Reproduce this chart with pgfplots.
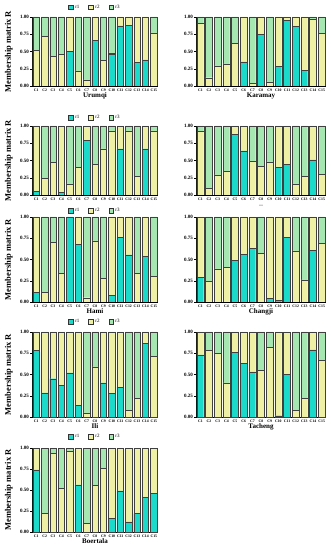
\documentclass[border=0pt]{standalone}
\usepackage{pgfplots}
\pgfplotsset{compat=1.18}
\usepackage{pgfplotstable}
\usepackage{fontspec}
\setmainfont{Liberation Serif}
\definecolor{cr1}{RGB}{28,218,202}
\definecolor{cr2}{RGB}{238,240,166}
\definecolor{cr3}{RGB}{166,230,176}

\pgfplotstableread{
x r1 r2 r3
1 0 .52 .48
2 0 .72 .28
3 0 .43 .57
4 0 .46 .54
5 .50 .50 0
6 0 .22 .78
7 0 .09 .91
8 .66 .34 0
9 0 .37 .63
10 .46 .02 .52
11 .87 .13 0
12 .88 .12 0
13 .34 .66 0
14 .38 .62 0
15 0 .77 .23
}\urumqi
\pgfplotstableread{
x r1 r2 r3
1 0 .91 .09
2 0 .12 .88
3 0 .29 .71
4 0 .32 .68
5 0 .62 .38
6 .35 .65 0
7 0 .04 .96
8 .75 .25 0
9 0 .06 .94
10 .28 .72 0
11 .95 .05 0
12 .86 .14 0
13 .23 .77 0
14 0 .97 .03
15 0 .76 .24
}\karamay
\pgfplotstableread{
x r1 r2 r3
1 .05 .95 0
2 0 .24 .76
3 0 .47 .53
4 .04 .96 0
5 0 .16 .84
6 0 .40 .60
7 .79 .21 0
8 0 .44 .56
9 0 .67 .33
10 0 .93 .07
11 .67 .33 0
12 0 .93 .07
13 0 .27 .73
14 .67 .33 0
15 0 .93 .07
}\rowtwoleft
\pgfplotstableread{
x r1 r2 r3
1 0 .92 .08
2 0 .10 .90
3 0 .29 .71
4 0 .34 .66
5 .875 .125 0
6 .64 .36 0
7 0 .49 .51
8 0 .42 .58
9 0 .48 .52
10 .40 .60 0
11 .44 .56 0
12 0 .16 .84
13 0 .27 .73
14 .51 .49 0
15 0 .30 .70
}\rowtworight
\pgfplotstableread{
x r1 r2 r3
1 .11 .89 0
2 0 .11 .89
3 0 .70 .30
4 0 .335 .665
5 1 0 0
6 .68 .32 0
7 0 .05 .95
8 0 .72 .28
9 0 .28 .72
10 .08 .92 0
11 .76 .24 0
12 .555 .445 0
13 0 .34 .66
14 .54 .46 0
15 0 .30 .70
}\hami
\pgfplotstableread{
x r1 r2 r3
1 .29 .71 0
2 0 .24 .76
3 0 .39 .61
4 0 .41 .59
5 .49 .51 0
6 .56 .44 0
7 .63 .37 0
8 0 .57 .43
9 .04 .96 0
10 .02 .98 0
11 .76 .24 0
12 0 .60 .40
13 0 .26 .74
14 .61 .39 0
15 0 .69 .31
}\changji
\pgfplotstableread{
x r1 r2 r3
1 .78 .22 0
2 .285 .715 0
3 .45 .55 0
4 .375 .625 0
5 .52 .48 0
6 .14 .86 0
7 0 .05 .95
8 0 .59 .41
9 .40 .60 0
10 .28 .72 0
11 .35 .65 0
12 0 .08 .92
13 0 .22 .78
14 .87 .13 0
15 0 .71 .29
}\ili
\pgfplotstableread{
x r1 r2 r3
1 .73 .27 0
2 0 .78 .22
3 0 .75 .25
4 0 .40 .60
5 .76 .24 0
6 .63 .37 0
7 .53 .47 0
8 0 .55 .45
9 0 .82 .18
10 .015 .985 0
11 .50 .50 0
12 0 .08 .92
13 0 .22 .78
14 .79 .21 0
15 0 .67 .33
}\tacheng
\pgfplotstableread{
x r1 r2 r3
1 .74 .26 0
2 0 .22 .78
3 0 .94 .06
4 0 .52 .48
5 0 .965 .035
6 .56 .44 0
7 0 .105 .895
8 0 .555 .445
9 0 .755 .245
10 .165 .835 0
11 .49 .51 0
12 .12 .88 0
13 .22 .78 0
14 .415 .585 0
15 .46 .54 0
}\boertala

\pgfplotsset{
  memb/.style={
    ybar stacked, scale only axis, ymin=0, ymax=1, xmin=0.5, xmax=15.5,
    bar width=0.78,
    xtick={1,...,15},
    xticklabels={C1,C2,C3,C4,C5,C6,C7,C8,C9,C10,C11,C12,C13,C14,C15},
    ytick={0,0.25,0.5,0.75,1},
    axis x line*=bottom, axis y line*=left,
    axis line style={black, line width=0.5pt},
    tick align=outside, major tick length=2pt,
    xtick style={draw=none},
    ytick style={black, line width=0.4pt},
    xticklabel style={font=\bfseries\fontsize{3.8}{4}\selectfont, inner sep=1pt},
    yticklabel style={font=\bfseries\fontsize{5}{5}\selectfont, inner sep=1pt,
      /pgf/number format/.cd, fixed, fixed zerofill, precision=2, assume math mode=true},
    xlabel style={font=\bfseries\fontsize{7}{7}\selectfont, inner sep=1pt, yshift=1pt},
  },
  membl/.style={memb, width=126pt,
    ylabel={Membership matrix R},
    ylabel style={font=\bfseries\fontsize{8.5}{8.5}\selectfont, at={(axis description cs:-0.183,0.5)}, anchor=center},
    legend style={at={(0.5,1)}, anchor=south, draw=none, fill=none, legend columns=3,
      font=\fontsize{5}{5}\selectfont, inner sep=0pt,
      /tikz/every even column/.append style={column sep=7pt}},
  },
  membr/.style={memb, width=130pt},
  b1/.style={fill=cr1, draw=black!75, line width=0.4pt, legend image code/.code={\draw[fill=cr1, draw=black!80, line width=0.4pt] (0pt,-2pt) rectangle (4.5pt,2.5pt);}},
  b2/.style={fill=cr2, draw=black!75, line width=0.4pt, legend image code/.code={\draw[fill=cr2, draw=black!80, line width=0.4pt] (0pt,-2pt) rectangle (4.5pt,2.5pt);}},
  b3/.style={fill=cr3, draw=black!75, line width=0.4pt, legend image code/.code={\draw[fill=cr3, draw=black!80, line width=0.4pt] (0pt,-2pt) rectangle (4.5pt,2.5pt);}},
}

\newcommand{\bars}[1]{%
  \addplot[b1] table[x=x,y=r1] {#1};
  \addplot[b2] table[x=x,y=r2] {#1};
  \addplot[b3] table[x=x,y=r3] {#1};
}

\begin{document}
\begin{tikzpicture}
\path[use as bounding box] (0,0) rectangle (330pt,550pt);

% Row 1
\begin{axis}[membl, at={(32pt,464pt)}, anchor=south west, height=69pt, xlabel={Urumqi},
  legend style={yshift=5pt}]
\bars{\urumqi}
\legend{r1,r2,r3}
\end{axis}
\begin{axis}[membr, at={(196pt,464pt)}, anchor=south west, height=69pt, xlabel={Karamay}]
\bars{\karamay}
\end{axis}

% Row 2
\begin{axis}[membl, at={(32pt,355pt)}, anchor=south west, height=69pt,
  legend style={yshift=3.5pt}]
\bars{\rowtwoleft}
\legend{r1,r2,r3}
\end{axis}
\begin{axis}[membr, at={(196pt,355pt)}, anchor=south west, height=69pt,
  xlabel={\fontsize{4}{4}\selectfont —}, xlabel style={yshift=-3pt}]
\bars{\rowtworight}
\end{axis}

% Row 3
\begin{axis}[membl, at={(32pt,248pt)}, anchor=south west, height=85pt, xlabel={Hami},
  legend style={yshift=1.5pt}]
\bars{\hami}
\legend{r1,r2,r3}
\end{axis}
\begin{axis}[membr, at={(196pt,248pt)}, anchor=south west, height=85pt, xlabel={Changji}]
\bars{\changji}
\end{axis}

% Row 4
\begin{axis}[membl, at={(32pt,133pt)}, anchor=south west, height=85pt, xlabel={Ili},
  legend style={yshift=5.5pt}]
\bars{\ili}
\legend{r1,r2,r3}
\end{axis}
\begin{axis}[membr, at={(196pt,133pt)}, anchor=south west, height=85pt, xlabel={Tacheng}]
\bars{\tacheng}
\end{axis}

% Row 5
\begin{axis}[membl, at={(32pt,18pt)}, anchor=south west, height=84pt, xlabel={Boertala},
  legend style={yshift=6.5pt}]
\bars{\boertala}
\legend{r1,r2,r3}
\end{axis}
\end{tikzpicture}
\end{document}
